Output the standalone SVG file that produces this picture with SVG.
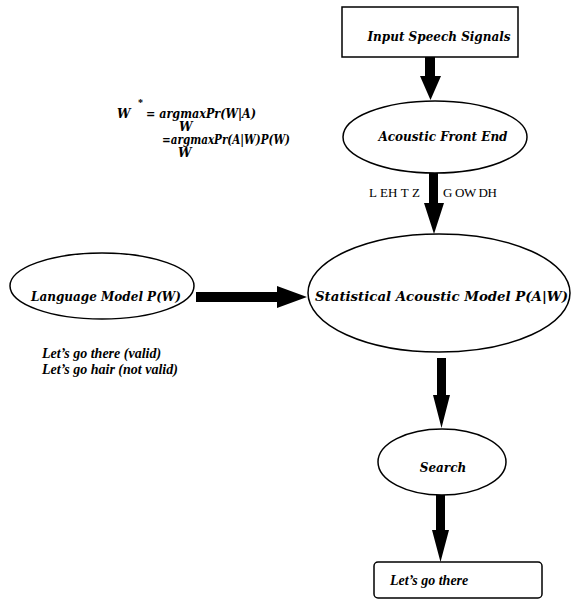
<svg xmlns="http://www.w3.org/2000/svg" width="571" height="608" viewBox="0 0 571 608">
<defs>
<style>
.shape{fill:#fff;stroke:#000;stroke-width:1.5}
.lbl{font-family:"DejaVu Serif",serif;font-weight:bold;font-style:italic;font-size:12px;fill:#000}
.note{font-family:"Liberation Serif",serif;font-weight:bold;font-style:italic;font-size:14px;fill:#000}
.ph{font-family:"Liberation Serif",serif;font-size:13px;fill:#000}
.arr{fill:#000;stroke:none}
</style>
</defs>
<rect width="571" height="608" fill="#fff"/>
<g id="connectors">
<polygon class="arr" points="425,57 435,57 435,76 441,76 430.5,100 420,76 425,76"/>
<polygon class="arr" points="429,172 438,172 438,203 444,203 434,234 424,203 429,203"/>
<polygon class="arr" points="196,292 277,292 277,286 307,297 277,308 277,302 196,302"/>
<polygon class="arr" points="437,358 446,358 446,395 450,395 441.5,428 433,395 437,395"/>
<polygon class="arr" points="436,495 445,495 445,530 449,530 440.5,562 432,530 436,530"/>
</g>
<g id="input">
<rect class="shape" x="342" y="7" width="176" height="50"/>
<text class="lbl" x="439" y="41" text-anchor="middle">Input Speech Signals</text>
</g>
<g id="frontend">
<ellipse class="shape" cx="435" cy="137" rx="92" ry="36"/>
<text class="lbl" x="443" y="141" text-anchor="middle">Acoustic Front End</text>
</g>
<g id="phones">
<text class="ph" x="369" y="197" textLength="51">L EH T Z</text>
<text class="ph" x="443" y="197" textLength="54">G OW DH</text>
</g>
<g id="formula">
<text class="lbl" x="117" y="118" font-size="14">W</text>
<text x="138" y="106" font-family="Liberation Serif,serif" font-weight="bold" font-size="10" fill="#000">*</text>
<text class="lbl" x="146" y="118" font-size="13" textLength="110" lengthAdjust="spacingAndGlyphs">= argmaxPr(W|A)</text>
<text class="lbl" x="179" y="131" font-size="13">W</text>
<text class="lbl" x="162" y="144" font-size="13" textLength="128" lengthAdjust="spacingAndGlyphs">=argmaxPr(A|W)P(W)</text>
<text class="lbl" x="178" y="157" font-size="13">W</text>
</g>
<g id="statistical">
<ellipse class="shape" cx="439" cy="293" rx="131" ry="59"/>
<text class="lbl" x="315" y="301" textLength="253" lengthAdjust="spacingAndGlyphs">Statistical Acoustic Model P(A|W)</text>
</g>
<g id="language">
<ellipse class="shape" cx="102" cy="286" rx="92" ry="33"/>
<text class="lbl" x="106" y="301" text-anchor="middle">Language Model P(W)</text>
</g>
<g id="examples">
<text class="note" x="42" y="358">Let’s go there (valid)</text>
<text class="note" x="42" y="374">Let’s go hair (not valid)</text>
</g>
<g id="search">
<ellipse class="shape" cx="442" cy="462" rx="64" ry="33"/>
<text class="lbl" x="443" y="472" text-anchor="middle" font-size="12.5">Search</text>
</g>
<g id="output">
<rect class="shape" x="374" y="562" width="168" height="36" rx="4"/>
<text class="note" x="390" y="585">Let’s go there</text>
</g>
</svg>
